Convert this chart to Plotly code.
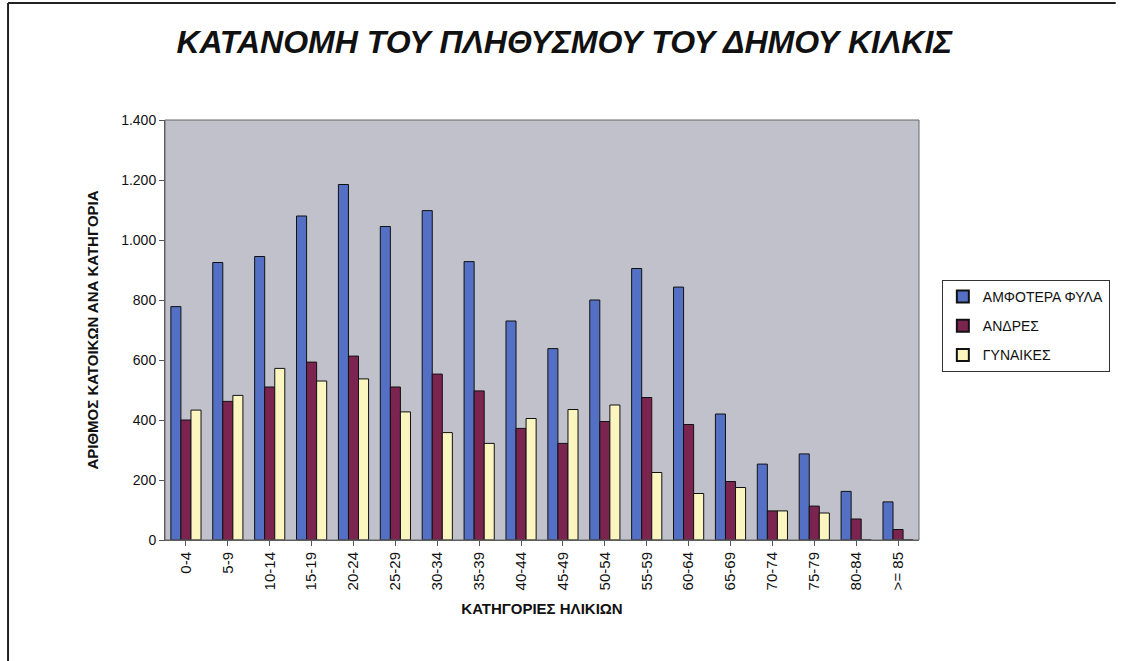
import plotly.graph_objects as go

categories = ["0-4", "5-9", "10-14", "15-19", "20-24", "25-29", "30-34", "35-39",
              "40-44", "45-49", "50-54", "55-59", "60-64", "65-69", "70-74",
              "75-79", "80-84", ">= 85"]
both_sexes = [778, 925, 945, 1080, 1185, 1045, 1098, 928, 730, 638, 800, 905,
              843, 420, 253, 287, 162, 127]
men = [400, 462, 510, 593, 613, 510, 553, 497, 372, 322, 395, 475, 385, 195,
       97, 113, 70, 35]
women = [433, 482, 572, 530, 537, 427, 358, 322, 405, 435, 450, 225, 155, 175,
         97, 90, 0, 0]
y_ticks = [0, 200, 400, 600, 800, 1000, 1200, 1400]

series = [
    ("ΑΜΦΟΤΕΡΑ ΦΥΛΑ", both_sexes, "#5470c4"),
    ("ΑΝΔΡΕΣ", men, "#7c2450"),
    ("ΓΥΝΑΙΚΕΣ", women, "#fbf5c0"),
]

fig = go.Figure()
for i, (name, vals, col) in enumerate(series):
    fig.add_trace(go.Bar(
        x=categories, y=vals, name=name, legendgroup=f"g{i}",
        marker=dict(color=col, line=dict(color="#111111", width=1)),
    ))

W, H = 1122, 661
L, T = 165, 120
pw, ph = 759, 420
R = W - L - pw
B = H - T - ph


def px_x(p):
    return (p - L) / pw


def px_y(p):
    return (H - B - p) / ph


fig.update_layout(
    width=W, height=H,
    margin=dict(l=L, r=R, t=T, b=B),
    paper_bgcolor="white",
    plot_bgcolor="#c0c1cb",
    barmode="group",
    bargap=0.28,
    bargroupgap=0,
    separators=",.",
    font=dict(family="Liberation Sans, Arial, sans-serif", color="#111111"),
    title=dict(
        text="<b><i>ΚΑΤΑΝΟΜΗ ΤΟΥ ΠΛΗΘΥΣΜΟΥ ΤΟΥ ΔΗΜΟΥ ΚΙΛΚΙΣ</i></b>",
        x=px_x(567), xref="paper", xanchor="center",
        y=1 - 42 / H, yref="container", yanchor="middle",
        font=dict(size=32, color="#111111"),
    ),
    showlegend=True,
    legend=dict(
        x=px_x(947), y=px_y(280), xanchor="left", yanchor="top",
        xref="paper", yref="paper",
        bgcolor="white", bordercolor="#333333", borderwidth=1,
        font=dict(size=14, color="#111111"),
        itemsizing="constant", itemwidth=30, tracegroupgap=8,
    ),
    xaxis=dict(
        tickangle=-90, tickfont=dict(size=15),
        showline=True, linecolor="#555555", linewidth=1,
        ticks="outside", ticklen=5, tickcolor="#555555",
        showgrid=False,
        title=dict(text="<b>ΚΑΤΗΓΟΡΙΕΣ ΗΛΙΚΙΩΝ</b>", font=dict(size=15), standoff=14),
    ),
    yaxis=dict(
        range=[0, 1400], tickvals=y_ticks, tickformat=",d",
        tickfont=dict(size=14),
        showline=True, linecolor="#555555", linewidth=1,
        ticks="outside", ticklen=5, tickcolor="#555555",
        showgrid=False, zeroline=False,
        title=dict(text="<b>ΑΡΙΘΜΟΣ ΚΑΤΟΙΚΩΝ ΑΝΑ ΚΑΤΗΓΟΡΙΑ</b>", font=dict(size=15), standoff=18),
    ),
    shapes=[
        dict(type="line", xref="paper", yref="paper",
             x0=px_x(7), x1=px_x(1122), y0=px_y(3), y1=px_y(3),
             line=dict(color="#222222", width=2)),
        dict(type="line", xref="paper", yref="paper",
             x0=px_x(7), x1=px_x(7), y0=px_y(3), y1=px_y(661),
             line=dict(color="#222222", width=2)),
        dict(type="rect", xref="paper", yref="paper",
             x0=0, x1=1, y0=0, y1=1,
             line=dict(color="#666666", width=1), fillcolor="rgba(0,0,0,0)"),
    ],
)

fig.write_html(
    "out.html",
    config={"displayModeBar": False},
    post_script="document.body.style.margin='0';document.body.style.overflow='hidden';",
)
